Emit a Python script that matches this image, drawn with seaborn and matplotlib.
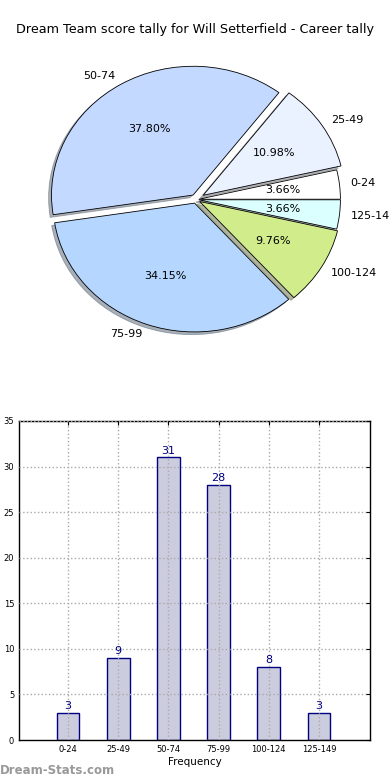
import matplotlib
matplotlib.use('Agg')
import matplotlib.pyplot as plt
import seaborn as sns
import numpy as np

# score intervals and how many games fell in each
categories = ['0-24', '25-49', '50-74', '75-99', '100-124', '125-149']
counts = [3, 9, 31, 28, 8, 3]
pie_colors = ['#ffffff', '#eaf1ff', '#c4d9ff', '#b5d6ff', '#d1ec8b', '#dbffff']
explode = [0.02, 0.06, 0.04, 0.03, 0.03, 0.02]
y_ticks = [0, 5, 10, 15, 20, 25, 30, 35]

sns.set_style('white')
plt.rcParams['font.family'] = ['DejaVu Sans']
plt.rcParams['text.color'] = 'black'
plt.rcParams['xtick.color'] = 'black'
plt.rcParams['ytick.color'] = 'black'
plt.rcParams['axes.labelcolor'] = 'black'

fig = plt.figure(figsize=(3.9, 7.8), dpi=100)
fig.text(0.5, 1 - 30 / 780, 'Dream Team score tally for Will Setterfield - Career tally',
         ha='center', va='center', fontsize=9.2)

# pie of score intervals (slightly wider than tall, like the original)
W, H = 354, 322
ax_pie = fig.add_axes([(196 - W / 2) / 390, (780 - 199.5 - H / 2) / 780, W / 390, H / 780])
wedges, texts, autotexts = ax_pie.pie(
    counts, labels=categories, colors=pie_colors, explode=explode,
    autopct='%.2f%%', shadow={'ox': -0.015, 'oy': -0.015, 'shade': 0.55}, startangle=0,
    labeldistance=1.08,
    wedgeprops=dict(edgecolor='black', linewidth=0.6),
    textprops={'fontsize': 8})
ax_pie.set_aspect('auto')

# bar chart of frequencies
ax = fig.add_axes([19 / 390, 40 / 780, 351 / 390, 319 / 780])
sns.barplot(x=categories, y=counts, color='#ccccdf', saturation=1, width=0.45,
            edgecolor='#000080', linewidth=1, ax=ax)
for i, v in enumerate(counts):
    ax.text(i, v + 0.2, str(v), ha='center', va='bottom', color='#000080', fontsize=8)

ax.set_xlim(-0.98, 6.02)
ax.set_ylim(0, 35)
ax.set_yticks(y_ticks)
ax.grid(True, linestyle=':', color='#aaaaaa', linewidth=1)
ax.set_axisbelow(False)
ax.tick_params(axis='both', labelsize=6, direction='in', top=True, right=True, length=3)
ax.set_xlabel('Frequency', fontsize=7.5, labelpad=2)
ax.set_ylabel('Score Intervals', fontsize=7.5, labelpad=2)
for s in ax.spines.values():
    s.set_color('black')
    s.set_linewidth(1)

fig.text(0.0, 9 / 780, 'Dream-Stats.com', ha='left', va='center', fontsize=8.5,
         color='#999999', fontweight='bold')

fig.savefig('out.png', dpi=100)
